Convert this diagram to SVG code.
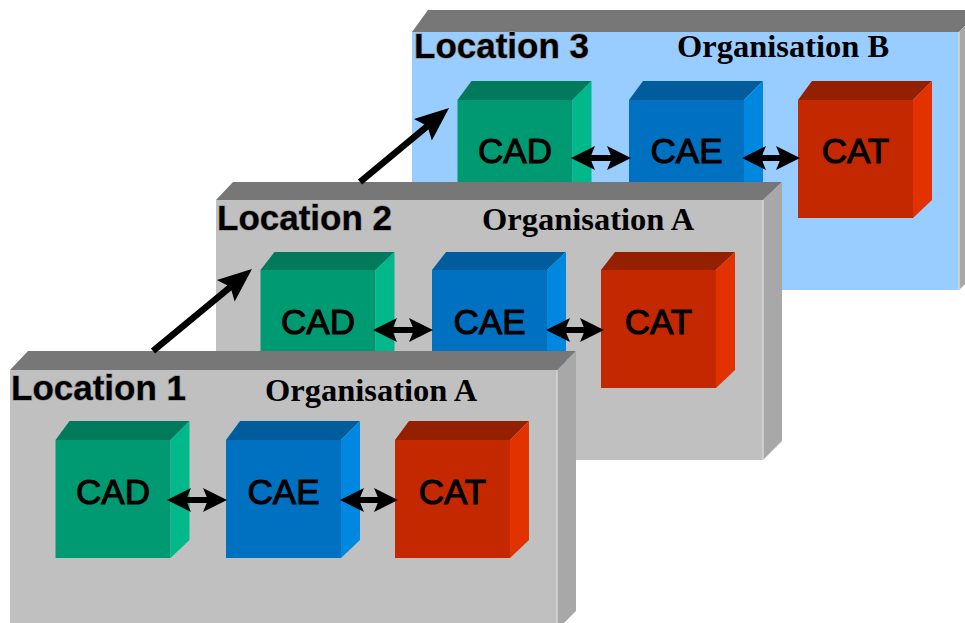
<svg xmlns="http://www.w3.org/2000/svg" width="965" height="623" viewBox="0 0 965 623">
<style>
.top{fill:#777777}
.side{fill:#A8A8A8}
.edge{stroke:#D6D6D6;stroke-width:1.5}
.gray{fill:#C0C0C0}
.blue{fill:#99CCFF}
.gT{fill:#007A5A}.gS{fill:#00B88A}.gF{fill:#009A72}
.bT{fill:#005C9C}.bS{fill:#0088E0}.bF{fill:#0070C0}
.rT{fill:#952000}.rS{fill:#E23200}.rF{fill:#C42800}
.loc{font-family:"Liberation Sans",Arial,sans-serif;font-weight:bold;font-size:35px;fill:#000;stroke:#9a9a9a;stroke-width:1.4;paint-order:stroke}
.org{font-family:"Liberation Serif","Times New Roman",serif;font-weight:bold;font-size:32.5px;fill:#000}
.lbl{font-family:"Liberation Sans",Arial,sans-serif;font-size:35px;text-anchor:middle;fill:#000;stroke:#000;stroke-width:1.1}
.big{stroke:#000;stroke-width:6.5;fill:none;marker-end:url(#bigHead)}
.dbl{stroke:#000;stroke-width:6;fill:none;marker-start:url(#smallHead);marker-end:url(#smallHead)}
</style>
<defs>
<marker id="bigHead" markerUnits="userSpaceOnUse" orient="auto" refX="0" refY="0" markerWidth="40" markerHeight="40" overflow="visible">
<path d="M28,0 L-6,-14 L0,0 L-6,14 Z" fill="#000"/>
</marker>
<marker id="smallHead" markerUnits="userSpaceOnUse" orient="auto-start-reverse" refX="0" refY="0" markerWidth="30" markerHeight="30" overflow="visible">
<path d="M19,0 L-5,-12 L0,0 L-5,12 Z" fill="#000"/>
</marker>
</defs>

<!-- Panel 3 -->
<g id="panel3" transform="translate(412,30)">
<polygon class="top" points="0,2 16,-20 568,-20 547,2"/>
<polygon class="side" points="547,2 568,-20 568,240 547,260"/>
<rect class="blue" x="0" y="2" width="547" height="258"/>
<line class="edge" x1="547" y1="2" x2="547" y2="260"/>
<text class="loc" x="2" y="28">Location 3</text>
<text class="org" x="265" y="27">Organisation B</text>
<g id="cad3">
<polygon class="gT" points="45.5,70 59.5,51 179.5,51 160.5,70"/>
<polygon class="gS" points="160.5,70 179.5,51 179.5,170 160.5,188"/>
<rect class="gF" x="45.5" y="70" width="115" height="118"/>
<text class="lbl" x="103" y="133">CAD</text>
</g>
<g id="cae3">
<polygon class="bT" points="217,70 231,51 351,51 332,70"/>
<polygon class="bS" points="332,70 351,51 351,170 332,188"/>
<rect class="bF" x="217" y="70" width="115" height="118"/>
<text class="lbl" x="274.5" y="133">CAE</text>
</g>
<g id="cat3">
<polygon class="rT" points="386,70 400,51 520,51 501,70"/>
<polygon class="rS" points="501,70 520,51 520,170 501,188"/>
<rect class="rF" x="386" y="70" width="115" height="118"/>
<text class="lbl" x="443.5" y="133">CAT</text>
</g>
</g>

<!-- Panel 2 -->
<g id="panel2" transform="translate(216,200)">
<polygon class="top" points="0,0 17,-18 566,-18 547,0"/>
<polygon class="side" points="547,0 566,-18 566,241 547,260"/>
<rect class="gray" x="0" y="0" width="547" height="260"/>
<line class="edge" x1="547" y1="0" x2="547" y2="260"/>
<text class="loc" x="1" y="30">Location 2</text>
<text class="org" x="266" y="30">Organisation A</text>
<g id="cad2">
<polygon class="gT" points="44.5,70 58.5,52 178.5,52 159.5,70"/>
<polygon class="gS" points="159.5,70 178.5,52 178.5,170 159.5,188"/>
<rect class="gF" x="44.5" y="70" width="115" height="118"/>
<text class="lbl" x="102" y="134">CAD</text>
</g>
<g id="cae2">
<polygon class="bT" points="216,70 230,52 350,52 331,70"/>
<polygon class="bS" points="331,70 350,52 350,170 331,188"/>
<rect class="bF" x="216" y="70" width="115" height="118"/>
<text class="lbl" x="273.5" y="134">CAE</text>
</g>
<g id="cat2">
<polygon class="rT" points="385,70 399,52 519,52 500,70"/>
<polygon class="rS" points="500,70 519,52 519,170 500,188"/>
<rect class="rF" x="385" y="70" width="115" height="118"/>
<text class="lbl" x="442.5" y="134">CAT</text>
</g>
</g>

<!-- Panel 1 -->
<g id="panel1" transform="translate(10,370)">
<polygon class="top" points="0,0 18,-19 566,-19 547,0"/>
<polygon class="side" points="547,0 566,-19 566,241 547,260"/>
<rect class="gray" x="0" y="0" width="547" height="260"/>
<line class="edge" x1="547" y1="0" x2="547" y2="260"/>
<text class="loc" x="1" y="30">Location 1</text>
<text class="org" x="255" y="31">Organisation A</text>
<g id="cad1">
<polygon class="gT" points="45.5,70 59.5,51 179.5,51 160.5,70"/>
<polygon class="gS" points="160.5,70 179.5,51 179.5,170 160.5,188"/>
<rect class="gF" x="45.5" y="70" width="115" height="118"/>
<text class="lbl" x="103" y="134">CAD</text>
</g>
<g id="cae1">
<polygon class="bT" points="216,70 230,51 350,51 331,70"/>
<polygon class="bS" points="331,70 350,51 350,170 331,188"/>
<rect class="bF" x="216" y="70" width="115" height="118"/>
<text class="lbl" x="273.5" y="134">CAE</text>
</g>
<g id="cat1">
<polygon class="rT" points="385,70 399,51 519,51 500,70"/>
<polygon class="rS" points="500,70 519,51 519,170 500,188"/>
<rect class="rF" x="385" y="70" width="115" height="118"/>
<text class="lbl" x="442.5" y="134">CAT</text>
</g>
</g>

<!-- Connectors -->
<g id="connectors">
<line class="big" x1="153" y1="351" x2="230.4" y2="286.9"/>
<line class="big" x1="360" y1="182" x2="427.5" y2="125.9"/>
<line class="dbl" x1="186" y1="500" x2="208" y2="500"/>
<line class="dbl" x1="359" y1="500" x2="379" y2="500"/>
<line class="dbl" x1="392" y1="330" x2="414" y2="330"/>
<line class="dbl" x1="565" y1="330" x2="585" y2="330"/>
<line class="dbl" x1="590" y1="158" x2="612" y2="158"/>
<line class="dbl" x1="761" y1="158" x2="781" y2="158"/>
</g>
</svg>
